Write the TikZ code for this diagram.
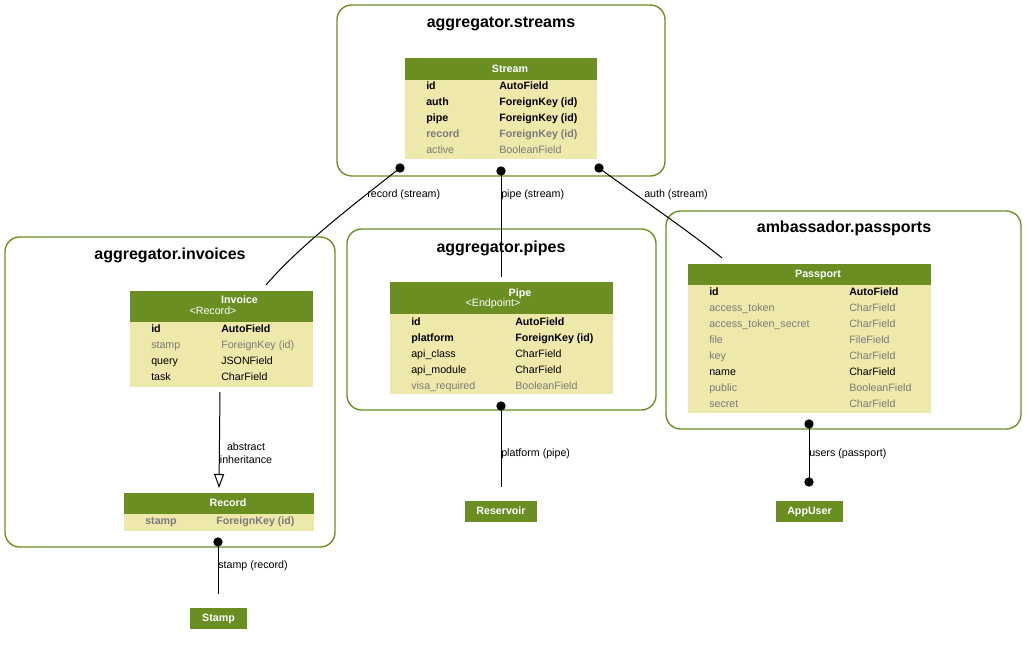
\documentclass[tikz,border=0pt]{standalone}
\usepackage{fontspec}
\setmainfont{Liberation Sans}
\usetikzlibrary{fit,arrows.meta}
\definecolor{olive}{RGB}{107,142,35}
\definecolor{pale}{RGB}{238,232,170}
\definecolor{fgray}{RGB}{123,123,123}
\tikzset{
  cluster/.style={draw=olive, line width=1pt, rounded corners=11pt, inner sep=0pt},
  hdr/.style={fill=olive, inner sep=0pt},
  bodybox/.style={fill=pale, inner sep=0pt},
  ttl/.style={font=\fontsize{12}{14}\selectfont\bfseries, inner sep=0pt, text height=8.6pt, text depth=0pt},
  txt/.style={font=\fontsize{8}{9.6}\selectfont, inner sep=0pt, anchor=west, text height=5.8pt, text depth=0pt},
  bt/.style={txt, font=\fontsize{8}{9.6}\selectfont\bfseries},
  gt/.style={txt, text=fgray},
  gbt/.style={bt, text=fgray},
  htxt/.style={font=\fontsize{8}{9.6}\selectfont\bfseries, text=white, inner sep=0pt, text height=5.8pt, text depth=0pt},
  hsub/.style={font=\fontsize{8}{9.6}\selectfont, text=white, inner sep=0pt, text height=5.8pt, text depth=0pt},
  lbl/.style={txt},
  dot/.style={circle, fill=black, inner sep=0pt, minimum size=7pt},
  conn/.style={line width=0.75pt}
}
\begin{document}
\begin{tikzpicture}[x=0.75pt,y=-0.75pt]
\useasboundingbox[fill=white] (0,0) rectangle (1027,648);

% clusters
\node[cluster, fit={(337,5) (665,176)}] (cStreams) {};
\node[cluster, fit={(5,237) (335,547)}] (cInvoices) {};
\node[cluster, fit={(347,229) (656,410)}] (cPipes) {};
\node[cluster, fit={(666,211) (1021,429)}] (cPass) {};
\node[ttl] (tStreams) at (501,22) {aggregator.streams};
\node[ttl] (tInvoices) at (170,254) {aggregator.invoices};
\node[ttl] (tPipes) at (501,247) {aggregator.pipes};
\node[ttl] (tPass) at (844,227) {ambassador.passports};

% Stream table
\node[bodybox, fit={(405,79) (597,159)}] (streamB) {};
\node[hdr, fit={(405,58) (597,80)}] (streamH) {};
\node[htxt] (streamT) at (510,68.5) {Stream};
\node[bt] (s1n) at (426,86) {id};       \node[bt] (s1t) at (499,86) {AutoField};
\node[bt] (s2n) at (426,102) {auth};    \node[bt] (s2t) at (499,102) {ForeignKey (id)};
\node[bt] (s3n) at (426,118) {pipe};    \node[bt] (s3t) at (499,118) {ForeignKey (id)};
\node[gbt] (s4n) at (426,134) {record}; \node[gbt] (s4t) at (499,134) {ForeignKey (id)};
\node[gt] (s5n) at (426,150) {active};  \node[gt] (s5t) at (499,150) {BooleanField};

% Invoice table
\node[bodybox, fit={(130,321) (313,387)}] (invB) {};
\node[hdr, fit={(130,291) (313,322)}] (invH) {};
\node[htxt] (invT) at (239.5,300) {Invoice};
\node[hsub] (invS) at (213,310.5) {<Record>};
\node[bt] (i1n) at (151,329) {id};      \node[bt] (i1t) at (221,329) {AutoField};
\node[gt] (i2n) at (151,345) {stamp};   \node[gt] (i2t) at (221,345) {ForeignKey (id)};
\node[txt] (i3n) at (151,361) {query};  \node[txt] (i3t) at (221,361) {JSONField};
\node[txt] (i4n) at (151,377) {task};   \node[txt] (i4t) at (221,377) {CharField};

% Record table
\node[bodybox, fit={(124,513) (314,531)}] (recB) {};
\node[hdr, fit={(124,493) (314,514)}] (recH) {};
\node[htxt] (recT) at (228,503) {Record};
\node[gbt] (r1n) at (145,521) {stamp};  \node[gbt] (r1t) at (216,521) {ForeignKey (id)};

% Pipe table
\node[bodybox, fit={(390,313) (613,394)}] (pipeB) {};
\node[hdr, fit={(390,282) (613,314)}] (pipeH) {};
\node[htxt] (pipeT) at (520,292.5) {Pipe};
\node[hsub] (pipeS) at (493,303) {<Endpoint>};
\node[bt] (p1n) at (411,321.5) {id};             \node[bt] (p1t) at (515,321.5) {AutoField};
\node[bt] (p2n) at (411,337.5) {platform};       \node[bt] (p2t) at (515,337.5) {ForeignKey (id)};
\node[txt] (p3n) at (411,353.5) {api\_class};    \node[txt] (p3t) at (515,353.5) {CharField};
\node[txt] (p4n) at (411,369.5) {api\_module};   \node[txt] (p4t) at (515,369.5) {CharField};
\node[gt] (p5n) at (411,385.5) {visa\_required}; \node[gt] (p5t) at (515,385.5) {BooleanField};

% Passport table
\node[bodybox, fit={(688,284) (931,413)}] (passB) {};
\node[hdr, fit={(688,264) (931,285)}] (passH) {};
\node[htxt] (passT) at (818,273.5) {Passport};
\node[bt] (a1n) at (709,292) {id};                     \node[bt] (a1t) at (849,292) {AutoField};
\node[gt] (a2n) at (709,308) {access\_token};          \node[gt] (a2t) at (849,308) {CharField};
\node[gt] (a3n) at (709,324) {access\_token\_secret};  \node[gt] (a3t) at (849,324) {CharField};
\node[gt] (a4n) at (709,340) {file};                   \node[gt] (a4t) at (849,340) {FileField};
\node[gt] (a5n) at (709,356) {key};                    \node[gt] (a5t) at (849,356) {CharField};
\node[txt] (a6n) at (709,372) {name};                  \node[txt] (a6t) at (849,372) {CharField};
\node[gt] (a7n) at (709,388) {public};                 \node[gt] (a7t) at (849,388) {BooleanField};
\node[gt] (a8n) at (709,404) {secret};                 \node[gt] (a8t) at (849,404) {CharField};

% external boxes
\node[hdr, fit={(190,608) (247,629)}] (stampB) {};
\node[htxt] (stampT) at (218.5,618) {Stamp};
\node[hdr, fit={(465,501) (537,522)}] (resB) {};
\node[htxt] (resT) at (501,511) {Reservoir};
\node[hdr, fit={(776,501) (843,522)}] (userB) {};
\node[htxt] (userT) at (809.5,511) {AppUser};

% connector endpoints
\coordinate (recEnd) at (266,285);
\coordinate (pipeEnd) at (501,277);
\coordinate (authEnd) at (722,258);
\coordinate (inhStart) at (220,392);
\coordinate (inhEnd) at (219,488);
\coordinate (stampEnd) at (218,594);
\coordinate (resEnd) at (501,487);

\node[dot] (sd1) at (400,168) {};
\node[dot] (sd2) at (501,171) {};
\node[dot] (sd3) at (599,168) {};
\node[dot] (rd1) at (218,542) {};
\node[dot] (pd1) at (501,406) {};
\node[dot] (ad1) at (809,424) {};
\node[dot] (ad2) at (809,482) {};

\draw[conn] (sd1.center) .. controls (362,198) and (300,245) .. (recEnd);
\draw[conn] (sd2.center) -- (pipeEnd);
\draw[conn] (sd3.center) .. controls (640,198) and (690,232) .. (authEnd);
\draw[conn, -{Triangle[open, length=10.5pt, width=7.5pt]}] (inhStart) -- (inhEnd);
\draw[conn] (rd1.center) -- (stampEnd);
\draw[conn] (pd1.center) -- (resEnd);
\draw[conn] (ad1.center) -- (ad2.center);

\node[lbl] (lRec) at (367,194) {record (stream)};
\node[lbl] (lPipe) at (501,194) {pipe (stream)};
\node[lbl] (lAuth) at (644,194) {auth (stream)};
\node[lbl] (lPlat) at (501,453) {platform (pipe)};
\node[lbl] (lUsers) at (809,453) {users (passport)};
\node[lbl] (lStamp) at (218,565) {stamp (record)};
\node[font=\fontsize{8}{9.6}\selectfont, inner sep=0pt, align=center] (lInh) at (246,453.5) {abstract\\inheritance};
\end{tikzpicture}
\end{document}
